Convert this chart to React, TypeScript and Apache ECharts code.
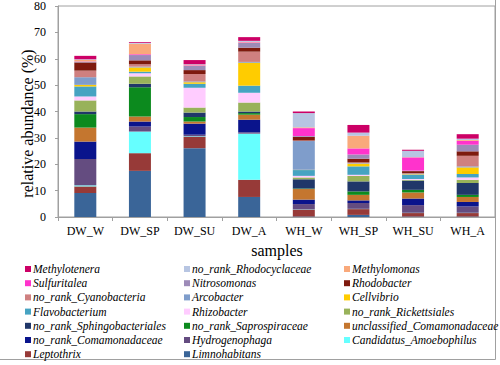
import React, { useEffect, useRef } from "react";
import * as echarts from "echarts";

const categories = ["DW_W", "DW_SP", "DW_SU", "DW_A", "WH_W", "WH_SP", "WH_SU", "WH_A"];
const yTicks = { min: 0, max: 80, interval: 10 };

// stack order: bottom -> top
const Limnohabitans = [9.1, 17.5, 26.1, 7.6, 0.2, 0.8, 0.2, 0.2];
const Leptothrix = [2.5, 6.7, 4.3, 6.5, 2.6, 2.2, 1.3, 1.3];
const Candidatus_Amoebophilus = [0.4, 8.2, 0.2, 17.5, 0.1, 0.1, 0.1, 0.1];
const Hydrogenophaga = [10, 1.9, 0.6, 0.5, 2.0, 2.2, 2.9, 2.4];
const no_rank_Comamonadaceae = [6.6, 1.9, 4.2, 4.8, 1.7, 1.0, 2.5, 1.7];
const unclassified_Comamonadaceae = [5.3, 1.9, 0.8, 1.9, 4.0, 2.1, 2.3, 1.9];
const no_rank_Saprospiraceae = [5.1, 11.1, 1.7, 0.6, 0.2, 1.3, 1.0, 0.8];
const no_rank_Sphingobacteriales = [1.0, 1.3, 1.7, 0.6, 3.5, 3.8, 3.5, 4.5];
const no_rank_Rickettsiales = [4.2, 2.8, 1.9, 3.4, 0.7, 2.1, 0.3, 1.2];
const Rhizobacter = [1.5, 1.2, 7.5, 3.7, 0.6, 0.4, 0.3, 0.9];
const Flavobacterium = [3.8, 0.6, 1.5, 2.7, 2.2, 3.2, 1.6, 1.3];
const Cellvibrio = [0.6, 1.6, 0.6, 8.7, 0.1, 1.0, 0.2, 2.5];
const Arcobacter = [2.9, 0.3, 0.3, 0.3, 10.9, 0.2, 0.2, 0.4];
const no_rank_Cyanobacteria = [2.5, 0.9, 2.8, 3.9, 0.2, 0.3, 0.2, 4.0];
const Rhodobacter = [3.1, 1.5, 1.5, 1.5, 1.4, 1.4, 0.8, 1.7];
const Nitrosomonas = [0.3, 2.0, 1.6, 1.8, 0.3, 1.6, 0.2, 2.5];
const Sulfuritalea = [0.1, 0.3, 0.2, 0.2, 3.0, 2.3, 5.0, 1.5];
const Methylomonas = [0.6, 4.0, 0.2, 0.2, 0.3, 4.8, 0.1, 0.3];
const no_rank_Rhodocyclaceae = [0.2, 0.3, 0.2, 0.4, 5.4, 1.2, 2.4, 0.5];
const Methylotenera = [1.3, 0.3, 1.6, 1.4, 0.6, 2.9, 0.4, 1.7];

const taxa: [string, number[], string][] = [
  ["Limnohabitans", Limnohabitans, "#3A6598"],
  ["Leptothrix", Leptothrix, "#973A38"],
  ["Candidatus_Amoebophilus", Candidatus_Amoebophilus, "#66FFFF"],
  ["Hydrogenophaga", Hydrogenophaga, "#644C80"],
  ["no_rank_Comamonadaceae", no_rank_Comamonadaceae, "#0A148C"],
  ["unclassified_Comamonadaceae", unclassified_Comamonadaceae, "#C4762F"],
  ["no_rank_Saprospiraceae", no_rank_Saprospiraceae, "#0C8A1E"],
  ["no_rank_Sphingobacteriales", no_rank_Sphingobacteriales, "#203769"],
  ["no_rank_Rickettsiales", no_rank_Rickettsiales, "#98B25A"],
  ["Rhizobacter", Rhizobacter, "#FFCCFF"],
  ["Flavobacterium", Flavobacterium, "#46A3C2"],
  ["Cellvibrio", Cellvibrio, "#FFCC00"],
  ["Arcobacter", Arcobacter, "#7F9DCB"],
  ["no_rank_Cyanobacteria", no_rank_Cyanobacteria, "#CF8080"],
  ["Rhodobacter", Rhodobacter, "#7E1A0E"],
  ["Nitrosomonas", Nitrosomonas, "#9D8BB8"],
  ["Sulfuritalea", Sulfuritalea, "#FF33CC"],
  ["Methylomonas", Methylomonas, "#F9A97B"],
  ["no_rank_Rhodocyclaceae", no_rank_Rhodocyclaceae, "#B7C5E2"],
  ["Methylotenera", Methylotenera, "#CC0066"],
];

const FONT = "Liberation Serif";
const GRAY = "#A0A0A0";

export default function App() {
  const ref = useRef<HTMLDivElement>(null);
  useEffect(() => {
    if (!ref.current) return;
    const chart = echarts.init(ref.current, undefined, { renderer: "svg" });
    const reversed = taxa.map((t) => t[0]).reverse();
    const colLefts = [25, 184, 344];
    const legends = colLefts.map((left, c) => ({
      orient: "vertical",
      left,
      top: 262,
      padding: 0,
      itemGap: 0.2,
      itemWidth: 6,
      itemHeight: 6,
      icon: "rect",
      selectedMode: false,
      data: reversed.filter((_, i) => i % 3 === c),
      textStyle: {
        fontFamily: FONT,
        fontStyle: "italic",
        fontSize: 11.5,
        color: "#000",
        lineHeight: 14,
        padding: [0, 0, 0, -3],
      },
    }));
    chart.setOption({
      animation: false,
      backgroundColor: "#fff",
      grid: { left: 58, top: 6, right: 5, height: 211, show: true, borderColor: GRAY, borderWidth: 1 },
      legend: legends,
      xAxis: {
        type: "category",
        data: categories,
        axisLine: { lineStyle: { color: GRAY } },
        axisTick: { show: true, length: 4, lineStyle: { color: GRAY } },
        axisLabel: { color: "#000", fontFamily: FONT, fontSize: 12, margin: 8 },
      },
      yAxis: {
        type: "value",
        min: yTicks.min,
        max: yTicks.max,
        interval: yTicks.interval,
        splitLine: { show: false },
        axisLine: { show: true, lineStyle: { color: GRAY } },
        axisTick: { show: true, length: 3, lineStyle: { color: GRAY } },
        axisLabel: { color: "#000", fontFamily: FONT, fontSize: 12, margin: 12 },
      },
      series: taxa.map(([name, data, color]) => ({
        name,
        type: "bar",
        stack: "total",
        data,
        barWidth: 22,
        itemStyle: { color },
      })),
      graphic: [
        {
          type: "text",
          x: 27.5,
          y: 123.5,
          rotation: Math.PI / 2,
          style: {
            text: "relative abundance (%)",
            fontFamily: FONT,
            fontSize: 16,
            fill: "#000",
            align: "center",
            verticalAlign: "middle",
          },
        },
        {
          type: "text",
          x: 277,
          y: 250,
          style: {
            text: "samples",
            fontFamily: FONT,
            fontSize: 16,
            fill: "#000",
            align: "center",
            verticalAlign: "middle",
          },
        },
        {
          type: "line",
          shape: { x1: 495.5, y1: 0, x2: 495.5, y2: 359.5 },
          style: { stroke: GRAY, lineWidth: 1 },
        },
        {
          type: "line",
          shape: { x1: 0, y1: 359.5, x2: 495.5, y2: 359.5 },
          style: { stroke: GRAY, lineWidth: 1 },
        },
      ],
    });
    return () => chart.dispose();
  }, []);
  return <div ref={ref} style={{ width: 500, height: 365, position: "absolute", left: 0, top: 0 }} />;
}
